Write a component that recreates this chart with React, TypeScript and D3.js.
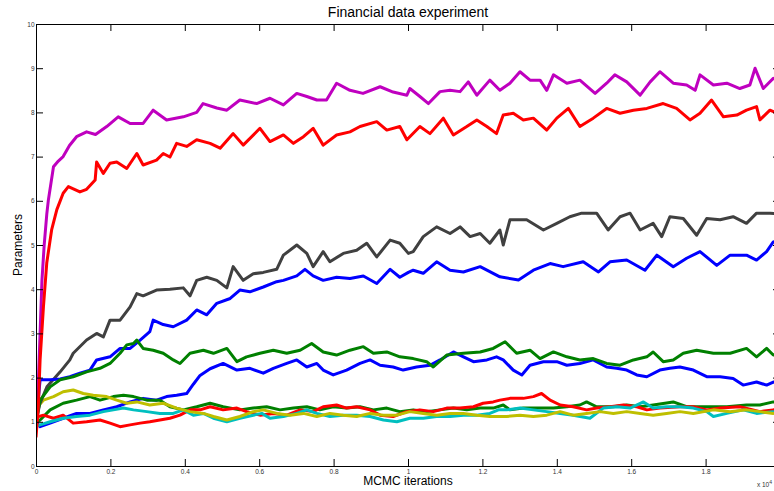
import { useEffect, useRef } from 'react';
import * as d3 from 'd3';

// [iterations (x 10^4), parameter value]
const blueLow = [
  [0, 1.0], [0.011, 0.89], [0.038, 0.97], [0.073, 1.08], [0.109, 1.19], [0.145, 1.19], [0.181, 1.27],
  [0.217, 1.34], [0.253, 1.45], [0.288, 1.53], [0.324, 1.49], [0.351, 1.57], [0.378, 1.6], [0.405, 1.64],
  [0.423, 1.85], [0.441, 2.05], [0.468, 2.2], [0.503, 2.32], [0.54, 2.17], [0.575, 2.21], [0.611, 2.1],
  [0.638, 2.21], [0.674, 2.32], [0.701, 2.4], [0.728, 2.24], [0.755, 2.32], [0.772, 2.17], [0.799, 2.06],
  [0.835, 2.17], [0.871, 2.32], [0.898, 2.4], [0.925, 2.28], [0.96, 2.24], [0.987, 2.17], [1.023, 2.24],
  [1.059, 2.28], [1.086, 2.4], [1.122, 2.58], [1.149, 2.47], [1.176, 2.36], [1.212, 2.4], [1.238, 2.47],
  [1.256, 2.4], [1.283, 2.17], [1.306, 2.06], [1.328, 2.28], [1.364, 2.36], [1.4, 2.36], [1.427, 2.28],
  [1.462, 2.32], [1.498, 2.4], [1.534, 2.24], [1.561, 2.21], [1.588, 2.17], [1.615, 2.06], [1.642, 2.02],
  [1.677, 2.17], [1.704, 2.21], [1.731, 2.24], [1.767, 2.17], [1.803, 2.02], [1.839, 2.02], [1.874, 1.98],
  [1.901, 1.83], [1.937, 1.9], [1.964, 1.83], [1.982, 1.9], [2.0, 1.85],
];

const greenLow = [
  [0, 1.0], [0.011, 1.04], [0.038, 1.27], [0.073, 1.42], [0.109, 1.49], [0.145, 1.57], [0.172, 1.49],
  [0.208, 1.57], [0.235, 1.6], [0.262, 1.57], [0.298, 1.49], [0.333, 1.49], [0.36, 1.34], [0.396, 1.27],
  [0.432, 1.34], [0.468, 1.42], [0.503, 1.34], [0.548, 1.27], [0.584, 1.31], [0.62, 1.34], [0.656, 1.27],
  [0.692, 1.31], [0.728, 1.34], [0.763, 1.27], [0.799, 1.34], [0.835, 1.31], [0.871, 1.34], [0.907, 1.27],
  [0.943, 1.31], [0.978, 1.23], [1.014, 1.27], [1.05, 1.23], [1.086, 1.27], [1.122, 1.31], [1.158, 1.27],
  [1.194, 1.31], [1.229, 1.31], [1.256, 1.38], [1.274, 1.27], [1.31, 1.31], [1.355, 1.31], [1.391, 1.31],
  [1.427, 1.34], [1.462, 1.38], [1.48, 1.45], [1.507, 1.34], [1.552, 1.34], [1.588, 1.38], [1.624, 1.34],
  [1.659, 1.38], [1.713, 1.45], [1.749, 1.34], [1.803, 1.34], [1.857, 1.34], [1.91, 1.38], [1.946, 1.38],
  [1.982, 1.45], [2.0, 1.42],
];

const redLow = [
  [0, 1.1], [0.02, 1.15], [0.047, 1.08], [0.073, 1.15], [0.1, 0.97], [0.136, 1.0], [0.172, 1.04],
  [0.199, 0.97], [0.226, 0.89], [0.253, 0.93], [0.28, 0.97], [0.306, 1.0], [0.333, 1.04], [0.36, 1.08],
  [0.387, 1.15], [0.414, 1.27], [0.441, 1.27], [0.468, 1.34], [0.503, 1.27], [0.54, 1.31], [0.566, 1.23],
  [0.602, 1.15], [0.638, 1.19], [0.674, 1.15], [0.71, 1.27], [0.745, 1.23], [0.772, 1.34], [0.808, 1.38],
  [0.835, 1.31], [0.862, 1.34], [0.898, 1.27], [0.925, 1.15], [0.96, 1.12], [0.997, 1.23], [1.032, 1.27],
  [1.068, 1.23], [1.104, 1.31], [1.14, 1.31], [1.176, 1.34], [1.202, 1.42], [1.229, 1.45], [1.247, 1.49],
  [1.274, 1.53], [1.31, 1.53], [1.337, 1.57], [1.359, 1.64], [1.382, 1.49], [1.409, 1.38], [1.444, 1.34],
  [1.48, 1.27], [1.507, 1.31], [1.543, 1.34], [1.579, 1.38], [1.615, 1.34], [1.642, 1.27], [1.677, 1.31],
  [1.731, 1.34], [1.767, 1.34], [1.803, 1.27], [1.839, 1.31], [1.892, 1.34], [1.946, 1.23], [1.982, 1.27],
  [2.0, 1.27],
];

const cyan = [
  [0, 0.9], [0.011, 0.93], [0.038, 1.0], [0.073, 1.08], [0.109, 1.12], [0.145, 1.15], [0.181, 1.23],
  [0.208, 1.27], [0.235, 1.31], [0.262, 1.27], [0.298, 1.23], [0.333, 1.19], [0.369, 1.19], [0.396, 1.27],
  [0.423, 1.15], [0.45, 1.19], [0.477, 1.08], [0.513, 1.0], [0.548, 1.08], [0.584, 1.15], [0.607, 1.19],
  [0.629, 1.08], [0.665, 1.12], [0.701, 1.19], [0.728, 1.27], [0.755, 1.19], [0.79, 1.12], [0.826, 1.15],
  [0.862, 1.15], [0.898, 1.12], [0.934, 1.04], [0.97, 1.0], [1.005, 1.08], [1.041, 1.08], [1.077, 1.12],
  [1.113, 1.12], [1.149, 1.15], [1.185, 1.15], [1.22, 1.19], [1.243, 1.27], [1.265, 1.27], [1.301, 1.31],
  [1.337, 1.27], [1.373, 1.23], [1.409, 1.19], [1.444, 1.15], [1.489, 1.08], [1.525, 1.31], [1.561, 1.34],
  [1.597, 1.31], [1.633, 1.45], [1.659, 1.31], [1.695, 1.34], [1.731, 1.34], [1.767, 1.31], [1.803, 1.23],
  [1.821, 1.12], [1.857, 1.19], [1.901, 1.27], [1.937, 1.19], [1.982, 1.23], [2.0, 1.2],
];

const magenta = [
  [0, 1.0], [0.005, 1.6], [0.011, 3.0], [0.016, 4.2], [0.022, 5.0], [0.029, 5.7], [0.033, 6.0],
  [0.047, 6.77], [0.06, 6.9], [0.073, 7.0], [0.09, 7.25], [0.109, 7.45], [0.136, 7.56], [0.16, 7.5],
  [0.19, 7.68], [0.221, 7.9], [0.253, 7.75], [0.288, 7.75], [0.315, 8.05], [0.351, 7.83], [0.396, 7.9],
  [0.432, 8.0], [0.449, 8.2], [0.486, 8.1], [0.513, 8.05], [0.548, 8.28], [0.593, 8.2], [0.629, 8.32],
  [0.665, 8.17], [0.701, 8.43], [0.728, 8.36], [0.755, 8.28], [0.781, 8.28], [0.808, 8.66], [0.844, 8.5],
  [0.879, 8.43], [0.925, 8.58], [0.96, 8.46], [0.997, 8.39], [1.005, 8.54], [1.032, 8.36], [1.055, 8.2],
  [1.086, 8.47], [1.113, 8.5], [1.14, 8.47], [1.162, 8.69], [1.185, 8.39], [1.22, 8.73], [1.247, 8.5],
  [1.274, 8.66], [1.301, 8.92], [1.328, 8.73], [1.355, 8.73], [1.373, 8.5], [1.391, 8.85], [1.427, 8.66],
  [1.462, 8.73], [1.503, 8.43], [1.534, 8.66], [1.556, 8.85], [1.588, 8.69], [1.624, 8.39], [1.651, 8.69],
  [1.677, 8.92], [1.713, 8.66], [1.749, 8.62], [1.772, 8.5], [1.785, 8.85], [1.821, 8.62], [1.857, 8.66],
  [1.892, 8.54], [1.919, 8.62], [1.933, 9.0], [1.955, 8.54], [1.982, 8.77], [2.0, 8.7],
];

const yellow = [
  [0, 1.3], [0.02, 1.49], [0.047, 1.57], [0.073, 1.68], [0.1, 1.72], [0.127, 1.64], [0.154, 1.6],
  [0.19, 1.57], [0.217, 1.49], [0.244, 1.42], [0.271, 1.45], [0.306, 1.38], [0.342, 1.42], [0.378, 1.31],
  [0.414, 1.23], [0.45, 1.19], [0.477, 1.12], [0.513, 1.04], [0.548, 1.12], [0.584, 1.23], [0.611, 1.27],
  [0.647, 1.19], [0.683, 1.15], [0.719, 1.19], [0.755, 1.12], [0.79, 1.19], [0.826, 1.15], [0.862, 1.12],
  [0.898, 1.19], [0.934, 1.15], [0.97, 1.15], [1.005, 1.23], [1.041, 1.19], [1.077, 1.15], [1.113, 1.19],
  [1.149, 1.19], [1.185, 1.15], [1.22, 1.12], [1.265, 1.12], [1.301, 1.15], [1.337, 1.12], [1.373, 1.15],
  [1.409, 1.23], [1.444, 1.15], [1.48, 1.19], [1.516, 1.23], [1.552, 1.19], [1.588, 1.23], [1.624, 1.19],
  [1.659, 1.15], [1.695, 1.19], [1.731, 1.23], [1.767, 1.19], [1.821, 1.27], [1.866, 1.23], [1.91, 1.27],
  [1.946, 1.23], [1.982, 1.19], [2.0, 1.2],
];

const darkGray = [
  [0, 1.0], [0.01, 1.4], [0.03, 1.8], [0.065, 2.13], [0.091, 2.4], [0.1, 2.55], [0.136, 2.85],
  [0.163, 3.0], [0.181, 2.92], [0.199, 3.3], [0.226, 3.3], [0.253, 3.6], [0.271, 3.9], [0.288, 3.85],
  [0.324, 3.98], [0.36, 4.0], [0.396, 4.03], [0.414, 3.85], [0.432, 4.2], [0.459, 4.27], [0.486, 4.2],
  [0.513, 4.03], [0.53, 4.51], [0.557, 4.2], [0.584, 4.35], [0.611, 4.38], [0.647, 4.45], [0.665, 4.77],
  [0.701, 5.0], [0.728, 4.81], [0.745, 4.51], [0.772, 4.85], [0.79, 4.62], [0.826, 4.81], [0.862, 4.88],
  [0.889, 5.04], [0.916, 4.73], [0.952, 5.11], [0.978, 5.04], [1.001, 4.81], [1.014, 4.85], [1.041, 5.19],
  [1.077, 5.41], [1.113, 5.26], [1.14, 5.41], [1.167, 5.19], [1.194, 5.26], [1.22, 5.04], [1.247, 5.34],
  [1.256, 5.0], [1.274, 5.57], [1.319, 5.57], [1.364, 5.34], [1.4, 5.49], [1.435, 5.64], [1.467, 5.72],
  [1.507, 5.72], [1.538, 5.34], [1.57, 5.64], [1.597, 5.72], [1.624, 5.34], [1.659, 5.49], [1.682, 5.19],
  [1.704, 5.64], [1.74, 5.6], [1.776, 5.22], [1.803, 5.6], [1.839, 5.57], [1.874, 5.64], [1.91, 5.49],
  [1.937, 5.72], [1.973, 5.72], [2.0, 5.7],
];

const blueHigh = [
  [0, 1.1], [0.006, 1.5], [0.011, 1.95], [0.038, 1.95], [0.065, 1.97], [0.091, 2.02], [0.118, 2.1],
  [0.145, 2.17], [0.163, 2.4], [0.199, 2.47], [0.226, 2.66], [0.253, 2.66], [0.28, 2.85], [0.306, 3.04],
  [0.315, 3.3], [0.342, 3.2], [0.369, 3.15], [0.405, 3.3], [0.432, 3.53], [0.459, 3.42], [0.486, 3.68],
  [0.522, 3.79], [0.548, 3.98], [0.575, 3.94], [0.611, 4.05], [0.647, 4.17], [0.665, 4.2], [0.701, 4.3],
  [0.723, 4.45], [0.745, 4.3], [0.772, 4.2], [0.808, 4.27], [0.844, 4.24], [0.88, 4.3], [0.916, 4.13],
  [0.952, 4.45], [0.978, 4.27], [1.001, 4.38], [1.014, 4.43], [1.041, 4.36], [1.077, 4.62], [1.113, 4.43],
  [1.149, 4.39], [1.194, 4.51], [1.247, 4.28], [1.297, 4.21], [1.337, 4.43], [1.382, 4.58], [1.417, 4.51],
  [1.471, 4.62], [1.512, 4.39], [1.543, 4.62], [1.588, 4.66], [1.637, 4.43], [1.669, 4.77], [1.713, 4.51],
  [1.749, 4.7], [1.785, 4.85], [1.83, 4.54], [1.866, 4.77], [1.91, 4.77], [1.937, 4.66], [1.964, 4.85],
  [1.982, 5.07], [2.0, 5.1],
];

const greenHigh = [
  [0, 1.0], [0.011, 1.49], [0.038, 1.79], [0.065, 1.95], [0.1, 2.02], [0.136, 2.13], [0.172, 2.21],
  [0.199, 2.32], [0.226, 2.55], [0.244, 2.74], [0.262, 2.77], [0.271, 2.85], [0.288, 2.66], [0.315, 2.62],
  [0.342, 2.55], [0.369, 2.4], [0.387, 2.32], [0.414, 2.55], [0.45, 2.62], [0.477, 2.55], [0.513, 2.66],
  [0.54, 2.36], [0.566, 2.47], [0.602, 2.55], [0.638, 2.62], [0.674, 2.55], [0.71, 2.62], [0.741, 2.77],
  [0.772, 2.58], [0.808, 2.51], [0.844, 2.62], [0.88, 2.7], [0.907, 2.55], [0.943, 2.58], [0.978, 2.47],
  [1.014, 2.43], [1.05, 2.36], [1.068, 2.24], [1.104, 2.51], [1.149, 2.55], [1.194, 2.58], [1.229, 2.66],
  [1.261, 2.81], [1.292, 2.55], [1.328, 2.62], [1.355, 2.43], [1.391, 2.58], [1.427, 2.47], [1.462, 2.4],
  [1.498, 2.43], [1.534, 2.32], [1.57, 2.28], [1.606, 2.4], [1.642, 2.47], [1.659, 2.58], [1.686, 2.36],
  [1.713, 2.4], [1.74, 2.55], [1.776, 2.62], [1.821, 2.55], [1.866, 2.55], [1.91, 2.66], [1.937, 2.47],
  [1.964, 2.66], [1.982, 2.51], [2.0, 2.55],
];

const redHigh = [
  [0, 0.65], [0.006, 1.3], [0.011, 2.4], [0.02, 3.6], [0.029, 4.6], [0.042, 5.34], [0.056, 5.8],
  [0.073, 6.17], [0.087, 6.32], [0.118, 6.2], [0.136, 6.26], [0.159, 6.47], [0.163, 6.88], [0.181, 6.62],
  [0.199, 6.85], [0.217, 6.88], [0.244, 6.73], [0.271, 7.07], [0.288, 6.81], [0.324, 6.92], [0.342, 7.07],
  [0.36, 6.99], [0.378, 7.3], [0.405, 7.23], [0.432, 7.38], [0.468, 7.3], [0.495, 7.19], [0.53, 7.52],
  [0.557, 7.26], [0.602, 7.64], [0.629, 7.34], [0.665, 7.49], [0.692, 7.3], [0.719, 7.45], [0.745, 7.64],
  [0.772, 7.26], [0.808, 7.49], [0.844, 7.56], [0.871, 7.68], [0.916, 7.79], [0.943, 7.6], [0.978, 7.68],
  [0.997, 7.38], [1.032, 7.68], [1.059, 7.52], [1.095, 7.87], [1.122, 7.49], [1.158, 7.68], [1.185, 7.83],
  [1.212, 7.68], [1.238, 7.52], [1.256, 7.94], [1.283, 7.98], [1.31, 7.83], [1.337, 7.87], [1.373, 7.6],
  [1.4, 7.87], [1.431, 8.09], [1.462, 7.68], [1.498, 7.87], [1.534, 8.09], [1.57, 7.98], [1.606, 8.05],
  [1.642, 8.09], [1.686, 8.2], [1.722, 8.09], [1.758, 7.83], [1.785, 7.98], [1.816, 8.28], [1.848, 7.9],
  [1.884, 7.94], [1.91, 8.05], [1.937, 8.13], [1.946, 7.83], [1.973, 8.05], [2.0, 7.95],
];

const xTicks = [0, 0.2, 0.4, 0.6, 0.8, 1, 1.2, 1.4, 1.6, 1.8];
const yTicks = [0, 1, 2, 3, 4, 5, 6, 7, 8, 9, 10];

// plot order follows MATLAB's default colour order (later lines on top)
const series = [
  { values: blueLow, color: '#0000ff' },
  { values: greenLow, color: '#008000' },
  { values: redLow, color: '#ff0000' },
  { values: cyan, color: '#00bfbf' },
  { values: magenta, color: '#bf00bf' },
  { values: yellow, color: '#bfbf00' },
  { values: darkGray, color: '#404040' },
  { values: blueHigh, color: '#0000ff' },
  { values: greenHigh, color: '#008000' },
  { values: redHigh, color: '#ff0000' },
];

const FONT = '"Liberation Sans", Arial, Helvetica, sans-serif';

const App = () => {
  const svgRef = useRef(null);

  useEffect(() => {
    const svg = d3.select(svgRef.current);
    svg.selectAll('*').remove();

    const left = 36;
    const right = 780;
    const top = 24;
    const bottom = 466;

    const x = d3.scaleLinear().domain([0, 2]).range([left, right]);
    const y = d3.scaleLinear().domain([0, 10]).range([bottom, top]);

    svg
      .append('defs')
      .append('clipPath')
      .attr('id', 'plot-clip')
      .append('rect')
      .attr('x', left)
      .attr('y', top)
      .attr('width', right - left)
      .attr('height', bottom - top);

    // Traces
    const line = d3
      .line()
      .x((d) => x(d[0]))
      .y((d) => y(d[1]));

    const traces = svg.append('g').attr('clip-path', 'url(#plot-clip)');
    series.forEach((s) => {
      traces
        .append('path')
        .datum(s.values)
        .attr('fill', 'none')
        .attr('stroke', s.color)
        .attr('stroke-width', 3)
        .attr('stroke-linejoin', 'round')
        .attr('d', line);
    });

    // Box axes with inward ticks
    const styleAxis = (g) => {
      g.select('.domain').attr('stroke', '#000').attr('stroke-width', 1);
      g.selectAll('.tick line').attr('stroke', '#000');
      g.selectAll('.tick text')
        .attr('fill', '#333')
        .attr('font-size', 6.5)
        .attr('font-family', FONT);
    };

    svg
      .append('g')
      .attr('transform', `translate(0,${bottom})`)
      .call(
        d3
          .axisBottom(x)
          .tickValues(xTicks)
          .tickFormat((d) => String(d))
          .tickSizeInner(-7)
          .tickSizeOuter(0)
          .tickPadding(3)
      )
      .call(styleAxis);

    svg
      .append('g')
      .attr('transform', `translate(0,${top})`)
      .call(d3.axisTop(x).tickValues(xTicks).tickFormat(() => '').tickSizeInner(-7).tickSizeOuter(0))
      .call(styleAxis);

    svg
      .append('g')
      .attr('transform', `translate(${left},0)`)
      .call(
        d3
          .axisLeft(y)
          .tickValues(yTicks)
          .tickFormat((d) => String(d))
          .tickSizeInner(-7)
          .tickSizeOuter(0)
          .tickPadding(1.5)
      )
      .call(styleAxis);

    svg
      .append('g')
      .attr('transform', `translate(${right},0)`)
      .call(d3.axisRight(y).tickValues(yTicks).tickFormat(() => '').tickSizeInner(-7).tickSizeOuter(0))
      .call(styleAxis);

    // Exponent label of the x axis
    const expo = svg
      .append('text')
      .attr('x', 772)
      .attr('y', 487)
      .attr('text-anchor', 'end')
      .attr('font-size', 6.5)
      .attr('font-family', FONT)
      .attr('fill', '#333');
    expo.append('tspan').text('x 10');
    expo.append('tspan').attr('dy', -3).attr('font-size', 5).text('4');

    // Title and axis labels
    svg
      .append('text')
      .attr('x', 408)
      .attr('y', 17)
      .attr('text-anchor', 'middle')
      .attr('font-size', 14)
      .attr('font-family', FONT)
      .attr('fill', '#000')
      .text('Financial data experiment');

    svg
      .append('text')
      .attr('x', 408)
      .attr('y', 485)
      .attr('text-anchor', 'middle')
      .attr('font-size', 12)
      .attr('font-family', FONT)
      .attr('fill', '#000')
      .text('MCMC iterations');

    svg
      .append('text')
      .attr('transform', 'translate(21.5,245) rotate(-90)')
      .attr('text-anchor', 'middle')
      .attr('font-size', 12)
      .attr('font-family', FONT)
      .attr('fill', '#000')
      .text('Parameters');
  }, []);

  return (
    <svg
      ref={svgRef}
      width={774}
      height={491}
      style={{ position: 'absolute', left: 0, top: 0, background: '#fff' }}
    ></svg>
  );
};

export default App;
